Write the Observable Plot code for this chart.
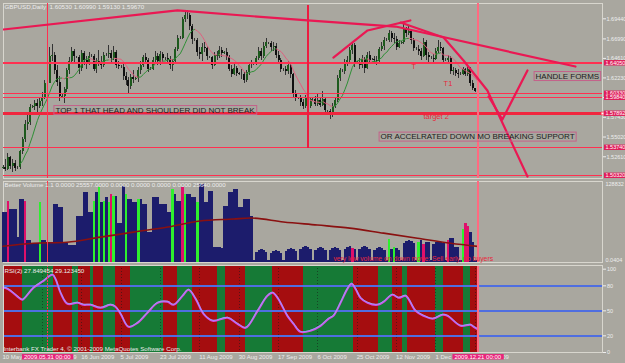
<!DOCTYPE html>
<html><head><meta charset="utf-8">
<script src="https://cdn.jsdelivr.net/npm/d3@7"></script>
<script src="https://cdn.jsdelivr.net/npm/@observablehq/plot@0.6"></script>
<style>
html,body{margin:0;padding:0;background:#a9a79f;}
#chart{position:relative;width:625px;height:363px;overflow:hidden;background:#a9a79f;}
.panel{position:absolute;left:0;width:625px;}
.panel svg{display:block;overflow:visible;}
</style></head><body><div id="chart">
<div class="panel" id="main" style="top:0"></div>
<div class="panel" id="vol" style="top:180px"></div>
<div class="panel" id="rsi" style="top:264px"></div>
</div>
<script>
// ---------------- data ----------------
const mainTitle = "GBPUSD,Daily  1.60530 1.60990 1.59130 1.59670";
const volTitle = "Better Volume 1.1 0.0000 25557.0000 0.0000 0.0000 0.0000 0.0000 25640.0000";
const rsiTitle = "RSI(2) 27.849454 29.123450";
const copyright = "Interbank FX Trader 4, \u00a9 2001-2009 MetaQuotes Software Corp.";

const dateTickBars = [0,16,32,48,64,80,96,112,128,144,160,176,192];
const dateTickLabels = ["10 May 2009","28 May 2009","16 Jun 2009","5 Jul 2009","23 Jul 2009","11 Aug 2009","30 Aug 2009","17 Sep 2009","6 Oct 2009","25 Oct 2009","12 Nov 2009","1 Dec 2009","20 Dec 2009"];
const markerBars = [18, 193];
const markerLabels = ["2009.05.31 00:00", "2009.12.21 00:00"];

const priceTicks = [1.6944, 1.6699, 1.6461, 1.6223, 1.5983, 1.5743, 1.5502, 1.5261];
const levelPrices = [1.64050, 1.60330, 1.59840, 1.57892, 1.53740, 1.50320];

const open = [
1.5120,1.5130,1.5110,1.5250,1.5140,1.5180,
1.5125,1.5130,1.5320,1.5470,1.5650,1.5680,
1.5860,1.5870,1.5910,1.5880,1.5940,1.5990,
1.6150,1.6160,1.6480,1.6500,1.6310,1.6170,
1.5990,1.6000,1.6080,1.6310,1.6420,1.6540,
1.6475,1.6470,1.6340,1.6520,1.6440,1.6400,
1.6485,1.6490,1.6330,1.6420,1.6400,1.6370,
1.6505,1.6510,1.6520,1.6460,1.6530,1.6380,
1.6355,1.6350,1.6240,1.6190,1.6120,1.6230,
1.6205,1.6210,1.6310,1.6380,1.6470,1.6440,
1.6325,1.6330,1.6440,1.6490,1.6420,1.6510,
1.6455,1.6460,1.6440,1.6370,1.6420,1.6570,
1.6705,1.6710,1.6930,1.6990,1.6980,1.6850,
1.6685,1.6680,1.6530,1.6510,1.6600,1.6580,
1.6475,1.6470,1.6380,1.6500,1.6490,1.6560,
1.6525,1.6530,1.6470,1.6330,1.6270,1.6340,
1.6275,1.6270,1.6260,1.6190,1.6290,1.6370,
1.6385,1.6390,1.6460,1.6550,1.6480,1.6610,
1.6645,1.6640,1.6590,1.6610,1.6500,1.6430,
1.6325,1.6320,1.6300,1.6370,1.6260,1.6030,
1.5975,1.5970,1.5920,1.5870,1.5980,1.5880,
1.5955,1.5960,1.5900,1.5950,1.5890,1.5960,
1.5815,1.5810,1.5780,1.5880,1.5950,1.6220,
1.6305,1.6300,1.6410,1.6440,1.6560,1.6620,
1.6405,1.6410,1.6370,1.6450,1.6340,1.6500,
1.6445,1.6450,1.6440,1.6420,1.6570,1.6610,
1.6685,1.6680,1.6770,1.6700,1.6690,1.6600,
1.6645,1.6650,1.6810,1.6760,1.6790,1.6680,
1.6575,1.6570,1.6540,1.6490,1.6650,1.6500,
1.6465,1.6460,1.6450,1.6540,1.6600,1.6580,
1.6435,1.6440,1.6460,1.6300,1.6310,1.6280,
1.6265,1.6270,1.6320,1.6270,1.6330,1.6160,
1.6090,1.6053];
const high = [
1.5150,1.5230,1.5300,1.5270,1.5230,1.5220,
1.5145,1.5340,1.5500,1.5700,1.5760,1.5900,
1.5885,1.5950,1.5960,1.5990,1.6040,1.6190,
1.6185,1.6590,1.6630,1.6530,1.6380,1.6240,
1.6020,1.6110,1.6340,1.6470,1.6590,1.6570,
1.6490,1.6500,1.6560,1.6550,1.6490,1.6530,
1.6505,1.6510,1.6460,1.6560,1.6480,1.6530,
1.6525,1.6620,1.6560,1.6610,1.6560,1.6420,
1.6370,1.6390,1.6290,1.6230,1.6270,1.6310,
1.6225,1.6350,1.6420,1.6500,1.6520,1.6460,
1.6345,1.6470,1.6540,1.6520,1.6550,1.6530,
1.6475,1.6520,1.6480,1.6450,1.6600,1.6740,
1.6730,1.6960,1.7020,1.7043,1.7010,1.6880,
1.6700,1.6700,1.6590,1.6640,1.6650,1.6610,
1.6490,1.6490,1.6530,1.6550,1.6610,1.6600,
1.6545,1.6580,1.6500,1.6370,1.6390,1.6360,
1.6290,1.6320,1.6290,1.6310,1.6400,1.6440,
1.6405,1.6490,1.6590,1.6580,1.6650,1.6700,
1.6660,1.6670,1.6660,1.6640,1.6540,1.6460,
1.6340,1.6360,1.6420,1.6400,1.6280,1.6070,
1.5990,1.6010,1.5960,1.6010,1.6000,1.5990,
1.5975,1.6000,1.6020,1.5990,1.6060,1.5990,
1.5830,1.5840,1.5910,1.5980,1.6250,1.6340,
1.6320,1.6450,1.6480,1.6600,1.6660,1.6640,
1.6425,1.6460,1.6500,1.6470,1.6530,1.6540,
1.6465,1.6490,1.6480,1.6600,1.6660,1.6720,
1.6700,1.6800,1.6790,1.6760,1.6730,1.6680,
1.6665,1.6877,1.6840,1.6850,1.6800,1.6700,
1.6590,1.6620,1.6580,1.6700,1.6680,1.6530,
1.6480,1.6510,1.6580,1.6680,1.6650,1.6600,
1.6455,1.6500,1.6480,1.6350,1.6340,1.6320,
1.6285,1.6350,1.6340,1.6360,1.6350,1.6190,
1.6095,1.6099];
const low = [
1.5110,1.5080,1.5090,1.5100,1.5070,1.5080,
1.5110,1.5100,1.5290,1.5440,1.5580,1.5640,
1.5845,1.5830,1.5800,1.5850,1.5870,1.5960,
1.6140,1.6150,1.6420,1.6270,1.6120,1.5930,
1.5975,1.5910,1.6050,1.6260,1.6390,1.6400,
1.6455,1.6270,1.6300,1.6380,1.6330,1.6370,
1.6470,1.6300,1.6280,1.6360,1.6320,1.6350,
1.6490,1.6460,1.6410,1.6430,1.6340,1.6320,
1.6335,1.6190,1.6130,1.6030,1.6080,1.6150,
1.6190,1.6170,1.6270,1.6350,1.6390,1.6290,
1.6310,1.6310,1.6400,1.6370,1.6380,1.6410,
1.6440,1.6400,1.6320,1.6300,1.6400,1.6540,
1.6690,1.6690,1.6900,1.6930,1.6800,1.6630,
1.6665,1.6490,1.6450,1.6420,1.6530,1.6440,
1.6455,1.6330,1.6360,1.6430,1.6460,1.6470,
1.6510,1.6440,1.6300,1.6230,1.6250,1.6240,
1.6255,1.6200,1.6150,1.6170,1.6250,1.6340,
1.6370,1.6370,1.6430,1.6440,1.6460,1.6580,
1.6625,1.6540,1.6550,1.6460,1.6390,1.6290,
1.6305,1.6250,1.6270,1.6220,1.5980,1.5930,
1.5955,1.5880,1.5840,1.5850,1.5830,1.5850,
1.5940,1.5870,1.5880,1.5860,1.5870,1.5790,
1.5795,1.5720,1.5740,1.5850,1.5920,1.6180,
1.6285,1.6270,1.6360,1.6400,1.6510,1.6350,
1.6390,1.6330,1.6340,1.6280,1.6320,1.6400,
1.6430,1.6390,1.6370,1.6400,1.6540,1.6560,
1.6665,1.6650,1.6650,1.6640,1.6560,1.6580,
1.6630,1.6630,1.6720,1.6740,1.6630,1.6540,
1.6555,1.6500,1.6440,1.6470,1.6440,1.6400,
1.6445,1.6410,1.6430,1.6520,1.6540,1.6400,
1.6420,1.6400,1.6260,1.6250,1.6240,1.6220,
1.6250,1.6250,1.6240,1.6240,1.6120,1.6070,
1.6040,1.5913];
const close = [
1.5130,1.5110,1.5250,1.5140,1.5180,1.5120,
1.5130,1.5320,1.5470,1.5650,1.5680,1.5860,
1.5870,1.5910,1.5880,1.5940,1.5990,1.6150,
1.6160,1.6480,1.6500,1.6310,1.6170,1.6000,
1.6000,1.6080,1.6310,1.6420,1.6540,1.6480,
1.6470,1.6340,1.6520,1.6440,1.6400,1.6490,
1.6490,1.6330,1.6420,1.6400,1.6370,1.6500,
1.6510,1.6520,1.6460,1.6530,1.6380,1.6360,
1.6350,1.6240,1.6190,1.6120,1.6230,1.6200,
1.6210,1.6310,1.6380,1.6470,1.6440,1.6330,
1.6330,1.6440,1.6490,1.6420,1.6510,1.6460,
1.6460,1.6440,1.6370,1.6420,1.6570,1.6700,
1.6710,1.6930,1.6990,1.6980,1.6850,1.6690,
1.6680,1.6530,1.6510,1.6600,1.6580,1.6480,
1.6470,1.6380,1.6500,1.6490,1.6560,1.6520,
1.6530,1.6470,1.6330,1.6270,1.6340,1.6280,
1.6270,1.6260,1.6190,1.6290,1.6370,1.6380,
1.6390,1.6460,1.6550,1.6480,1.6610,1.6650,
1.6640,1.6590,1.6610,1.6500,1.6430,1.6330,
1.6320,1.6300,1.6370,1.6260,1.6030,1.5980,
1.5970,1.5920,1.5870,1.5980,1.5880,1.5960,
1.5960,1.5900,1.5950,1.5890,1.5960,1.5820,
1.5810,1.5780,1.5880,1.5950,1.6220,1.6310,
1.6300,1.6410,1.6440,1.6560,1.6620,1.6400,
1.6410,1.6370,1.6450,1.6340,1.6500,1.6440,
1.6450,1.6440,1.6420,1.6570,1.6610,1.6680,
1.6680,1.6770,1.6700,1.6690,1.6600,1.6640,
1.6650,1.6810,1.6760,1.6790,1.6680,1.6580,
1.6570,1.6540,1.6490,1.6650,1.6500,1.6470,
1.6460,1.6450,1.6540,1.6600,1.6580,1.6440,
1.6440,1.6460,1.6300,1.6310,1.6280,1.6270,
1.6270,1.6320,1.6270,1.6330,1.6160,1.6100,
1.6053,1.5967];

const volume = [
78900,78900,96600,83700,83700,83700,
40300,99800,99800,96600,35400,35400,
30600,30600,30600,95000,35400,35400,
32200,32200,32200,91800,91800,86900,
86900,32200,30600,27400,27400,27400,
72500,72500,72500,111100,111100,78900,
78900,96600,111100,119100,95000,96600,
103000,95000,107900,104700,104700,62800,
62800,120800,107900,99800,99800,95000,
95000,99800,99800,91800,91800,48300,
48300,103000,103000,103000,91800,91800,
91800,78900,78900,115900,107900,96600,
96600,119100,107900,107900,107900,103000,
103000,95000,124000,124000,95000,95000,
112700,112700,24200,24200,24200,22500,
88600,88600,111100,111100,115900,115900,
86900,86900,99800,99800,99800,72500,
3220,16100,19320,20930,19320,16100,
3220,14490,17710,19320,17710,14490,
3220,17710,20930,22540,20930,17710,
3220,20930,24150,25760,24150,20930,
3220,19320,22540,24150,22540,19320,
3220,19320,22540,24150,22540,19320,
3220,20930,24150,25760,22540,20930,
3220,20930,24150,25760,24150,20930,
3220,19320,22540,24150,22540,19320,
3220,37030,20930,24150,22540,19320,
3220,30590,33810,35420,33810,30590,
3220,32200,35420,28980,32200,32200,
3220,28980,32200,33810,32200,30590,
3220,35420,38640,38640,24150,24150,
3220,53130,62790,57960,48300,32200,
3220,43470];
const volumeGreenBars = [15,37,39,41,43,45,50,55,69,74,79,157,159,169,187];
const volumeMagentaBars = [2,9,44,73,142,171,181,188,189];
const volumeMax = 128832;
const volumeScaleLabels = ["128832", "0.0404"];
const volMABar = [0,12.4,26,39.6,53,67,80,93.7,100.6,114,127.8,141,154.7,168.5,182,193];
const volMAValue = [25800,30600,32200,40300,48300,56400,66000,69200,70800,64400,59600,54700,46700,38600,30600,25640];
const volNote = "very low volume on down move: Sell early, no buyers";
const volNoteBar = 134.3, volNoteValue = 6400;

const rsiBar = [0,1.8,7.1,7.9,12.4,16.5,20.1,21.3,23.4,26.2,30.3,32.7,35.6,39.6,43.7,45.7,47.8,51,54.7,58.7,62.8,66.9,69.3,73,75.4,78.3,81.5,85.2,91.3,95.3,98.6,103.5,107.5,109.6,111.6,115.6,118.1,120.9,125,129.1,132.3,134.3,137.2,140,141.7,143.3,145.3,148.2,152.2,154.7,158.3,160.8,163.6,164.8,167.7,171,174.6,178.7,180.7,186,190,191.3,193];
const rsiValue = [77.6,76.4,64.4,63.2,77.6,86,93.2,88.4,71.6,58.4,59.6,57.2,57.2,53.6,57.2,54.8,46.4,30.8,35.6,47.6,59.6,60.8,57.2,68,75.2,64.4,46.4,38,41.6,34.4,29.6,50,68,71.6,65.6,44,34.4,24.8,26,32,40.4,44,59.6,76.4,82.4,76.4,65.6,59.6,57.2,60.8,69.2,65.6,68,64.4,50,44,40.4,45.2,44,32,33.2,30.8,27.8];
const rsiBandEdges = [0.2,7.9,20.5,28.3,30.7,35.6,36.8,40.9,45.7,51.8,65.2,70.9,77,87.2,90.4,98.6,109.6,122.2,142.5,152.6,158.3,162.4,164.4,175.8,179.1,187.2,190,193.5];
const rsiLevels = [80, 50, 20];
const rsiTicks = [100, 80, 50, 20, 0];

// trend lines (bar index, price)
const topLineBar = [0.2, 70.9, 123.8, 159.6, 232.7];
const topLinePrice = [1.6814, 1.7046, 1.6924, 1.6850, 1.6362];
const cupLineBar = [134.3, 148.2, 165.6];
const cupLinePrice = [1.6472, 1.6802, 1.6924];
const steepLineBar = [161.6, 179.1, 187.2, 196.9, 213.2];
const steepLinePrice = [1.6899, 1.6716, 1.6436, 1.6070, 1.5020];
const handleBar = [197.4, 203.0, 213.2];
const handlePrice = [1.5996, 1.5716, 1.6314];
const cutLineBar = [123.8];
const cutLineRange = [1.7107, 1.5362];

const noteText = ["TOP 1 THAT HEAD AND SHOULDER DID NOT BREAK", "OR ACCELRATED DOWN MO BREAKING SUPPORT", "HANDLE FORMS"];
const noteBar = [21.3, 153.5, 216.5];
const notePrice = [1.5832, 1.5508, 1.6247];
const redNoteText = ["target 2", "T1", "T"];
const redNoteBar = [170.9, 179.1, 166.1];
const redNotePrice = [1.5752, 1.6155, 1.6362];

// ---------------- build ----------------
const FONT = "'Liberation Sans', Arial, sans-serif";
const xScale = {domain: [0.2, 243.7], axis: null};
const baseStyle = {background: "transparent", overflow: "visible", color: "#eeeeee", fontFamily: FONT};
const W = 625, ML = 3, MR = 23;
const CRISP = {shapeRendering: "crispEdges"};

const candles = open.map((o, i) => ({i, o, h: high[i], l: low[i], c: close[i]}));
const ma = close.map((c, i) => i >= 7 ? d3.mean(close.slice(i - 7, i + 1)) : null);
const maSeg = [];
for (let i = 8; i < ma.length; i++) maSeg.push({x1: i - 1, y1: ma[i - 1], x2: i, y2: ma[i], up: ma[i] >= ma[i - 1]});
const pts = (bs, ps) => bs.map((b, k) => ({b, p: ps[k]}));
const notes = noteText.map((t, k) => ({t, b: noteBar[k], p: notePrice[k]}));
const redNotes = redNoteText.map((t, k) => ({t, b: redNoteBar[k], p: redNotePrice[k]}));
const thickLevel = levelPrices[3];

const RED = "#ff3050", PINK = "#ea1853";
const trend = (b, p) => Plot.line(pts(b, p), {x: "b", y: "p", stroke: PINK, strokeWidth: 2.2, clip: true});

const mainPlot = Plot.plot({
  width: W, height: 180, marginTop: 3, marginBottom: 2, marginLeft: ML, marginRight: MR,
  x: xScale, y: {domain: [1.4996, 1.7131], axis: null},
  style: baseStyle,
  marks: [
    Plot.frame({stroke: "#d8d6ce", ...CRISP}),
    Plot.ruleX(candles, {x: "i", y1: "l", y2: "h", stroke: "#343434", strokeWidth: 1, ...CRISP}),
    Plot.ruleX(candles, {x: "i", y1: "o", y2: "c", stroke: d => d.c >= d.o ? "#1d5a1d" : "#101010", strokeWidth: 2, ...CRISP}),
    Plot.link(maSeg, {x1: "x1", y1: "y1", x2: "x2", y2: "y2", stroke: d => d.up ? "#2f8f36" : "#e0607f", strokeWidth: 1}),
    Plot.ruleY(levelPrices.filter(p => p !== thickLevel), {stroke: RED, strokeWidth: 1.5, ...CRISP}),
    Plot.ruleY([thickLevel], {stroke: "#f0263e", strokeWidth: 3, ...CRISP}),
    Plot.dot([thickLevel], {x: () => xScale.domain[1], y: d => d, symbol: "square", r: 1.6, fill: "#ffffff", stroke: RED, strokeWidth: 0.8}),
    Plot.ruleX(markerBars.slice(0, 1), {stroke: RED, strokeWidth: 1.5, ...CRISP}),
    Plot.ruleX(markerBars.slice(1), {stroke: "#ff6a80", strokeWidth: 1.5, ...CRISP}),
    Plot.ruleX(cutLineBar, {y1: cutLineRange[0], y2: cutLineRange[1], stroke: "#ec1c40", strokeWidth: 2, ...CRISP}),
    trend(topLineBar, topLinePrice),
    trend(cupLineBar, cupLinePrice),
    trend(steepLineBar, steepLinePrice),
    trend(handleBar, handlePrice),
    Plot.text(notes, {x: "b", y: "p", text: "t", textAnchor: "start", fill: "#1c1c1c", fontSize: 8, fontFamily: FONT}),
    Plot.text(redNotes, {x: "b", y: "p", text: "t", textAnchor: "start", fill: "#e8283c", fontSize: 7.5, fontFamily: FONT}),
    Plot.axisY({anchor: "right", ticks: priceTicks, tickFormat: d => d.toFixed(5), tickSize: 3, tickPadding: 1, fontSize: 5.5, label: null}),
    Plot.text(levelPrices, {x: () => xScale.domain[1], y: d => d, text: d => d.toFixed(5), dx: 3, textAnchor: "start", fill: "#ffffff", fontSize: 5.5}),
    Plot.text([mainTitle], {text: d => d, frameAnchor: "top-left", dx: 1, dy: 1.5, lineAnchor: "top", textAnchor: "start", fontSize: 6.2, fill: "#ececec"})
  ]
});

const volData = volume.map((v, i) => ({i, v, kind: volumeGreenBars.includes(i) ? "g" : volumeMagentaBars.includes(i) ? "m" : "n"}));
const volColor = {n: "#1c1c6c", g: "#2ef02e", m: "#e0106a"};
const volPlot = Plot.plot({
  width: W, height: 84, marginTop: 1, marginBottom: 2, marginLeft: ML, marginRight: MR,
  x: xScale, y: {domain: [0, volumeMax], axis: null},
  style: baseStyle,
  marks: [
    Plot.frame({stroke: "#d8d6ce", ...CRISP}),
    Plot.ruleX(volData, {x: "i", y1: 0, y2: "v", stroke: d => volColor[d.kind], strokeWidth: 2.5, ...CRISP}),
    Plot.line(pts(volMABar, volMAValue), {x: "b", y: "p", stroke: "#8a1010", strokeWidth: 1.6, curve: "monotone-x"}),
    Plot.ruleX(markerBars.slice(0, 1), {stroke: RED, strokeWidth: 1.5, ...CRISP}),
    Plot.ruleX(markerBars.slice(1), {stroke: "#ff6a80", strokeWidth: 1.5, ...CRISP}),
    Plot.text([volNote], {text: d => d, x: () => volNoteBar, y: () => volNoteValue, textAnchor: "start", fill: "#e8283c", fontSize: 6.8}),
    Plot.text([volTitle], {text: d => d, frameAnchor: "top-left", dx: 1, dy: 1.5, lineAnchor: "top", textAnchor: "start", fontSize: 6.2, fill: "#ececec"}),
    Plot.text(volumeScaleLabels.slice(0, 1), {text: d => d, frameAnchor: "top-right", dx: 3, dy: 0.5, lineAnchor: "top", textAnchor: "start", fontSize: 5.5}),
    Plot.text(volumeScaleLabels.slice(1), {text: d => d, frameAnchor: "bottom-right", dx: 3, dy: -0.5, lineAnchor: "bottom", textAnchor: "start", fontSize: 5.5})
  ]
});

const bands = rsiBandEdges.slice(0, -1).map((e, k) => ({x1: e, x2: rsiBandEdges[k + 1], up: k % 2 === 1}));
const rsiPts = pts(rsiBar, rsiValue);
const dateTicks = dateTickBars.map((b, k) => ({b, t: dateTickLabels[k]}));
const markers = markerBars.map((b, k) => ({b, t: markerLabels[k]}));
const rsiPlot = Plot.plot({
  width: W, height: 99, marginTop: 1, marginBottom: 11, marginLeft: ML, marginRight: MR,
  x: xScale, y: {domain: [0, 104.4], axis: null},
  style: baseStyle,
  marks: [
    Plot.rect(bands, {x1: "x1", x2: "x2", fill: d => d.up ? "#167a36" : "#a50d0f", ...CRISP}),
    Plot.ruleX(dateTickBars.filter(b => b > 0 && b < 193), {stroke: "#1a1a1a", strokeDasharray: "1,2", strokeOpacity: 0.55, ...CRISP}),
    Plot.ruleY(rsiLevels, {stroke: "#4f6ee0", strokeWidth: 2, ...CRISP}),
    Plot.line(rsiPts, {x: "b", y: "p", stroke: "#d84ce8", strokeWidth: 2, curve: "catmull-rom"}),
    Plot.line(rsiPts, {x: "b", y: "p", stroke: "#86b4ff", strokeWidth: 0.8, dy: -0.6, curve: "catmull-rom"}),
    Plot.ruleX(markerBars.slice(0, 1), {stroke: RED, strokeWidth: 1.5, strokeDasharray: "2,1", ...CRISP}),
    Plot.ruleX(markerBars.slice(1), {stroke: "#ff6a80", strokeWidth: 1.5, ...CRISP}),
    Plot.frame({stroke: "#d8d6ce", ...CRISP}),
    Plot.axisY({anchor: "right", ticks: rsiTicks, tickSize: 3, tickPadding: 1.5, fontSize: 5.5, label: null}),
    Plot.text([rsiTitle], {text: d => d, frameAnchor: "top-left", dx: 1, dy: 3, lineAnchor: "top", textAnchor: "start", fontSize: 6.2, fill: "#ececec"}),
    Plot.text([copyright], {text: d => d, frameAnchor: "bottom-left", dx: 0, dy: -2, lineAnchor: "bottom", textAnchor: "start", fontSize: 6.2, fill: "#ececec"}),
    Plot.text(dateTicks, {x: "b", text: "t", frameAnchor: "bottom", lineAnchor: "top", dy: 2, dx: -0.5, textAnchor: "start", fontSize: 6, fill: "#ececec"}),
    Plot.text(markers, {x: "b", text: "t", frameAnchor: "bottom", lineAnchor: "top", dy: 2, textAnchor: "middle", fontSize: 6, fill: "#ffffff"})
  ]
});

document.getElementById("main").append(mainPlot);
document.getElementById("vol").append(volPlot);
document.getElementById("rsi").append(rsiPlot);

// boxes behind selected texts
function addBoxes(svg, specs) {
  svg.querySelectorAll("text").forEach(t => {
    const s = specs.get(t.textContent);
    if (!s) return;
    const b = t.getBBox();
    const r = document.createElementNS("http://www.w3.org/2000/svg", "rect");
    r.setAttribute("x", b.x - s.px);
    r.setAttribute("y", b.y - s.py);
    r.setAttribute("width", b.width + 2 * s.px);
    r.setAttribute("height", b.height + 2 * s.py);
    r.setAttribute("fill", s.fill);
    r.setAttribute("stroke", s.stroke);
    r.setAttribute("stroke-width", 1);
    const tr = t.getAttribute("transform");
    if (tr) r.setAttribute("transform", tr);
    t.parentNode.insertBefore(r, t);
  });
}
const mainSpecs = new Map();
noteText.forEach(n => mainSpecs.set(n, {px: 1.5, py: 0, fill: "none", stroke: "#c4628a"}));
levelPrices.forEach(p => mainSpecs.set(p.toFixed(5), {px: 1.5, py: -0.3, fill: "#e01e5a", stroke: "none"}));
addBoxes(mainPlot, mainSpecs);
const rsiSpecs = new Map();
markerLabels.forEach(m => rsiSpecs.set(m, {px: 2, py: -0.3, fill: "#e8247a", stroke: "none"}));
addBoxes(rsiPlot, rsiSpecs);
</script></body></html>
